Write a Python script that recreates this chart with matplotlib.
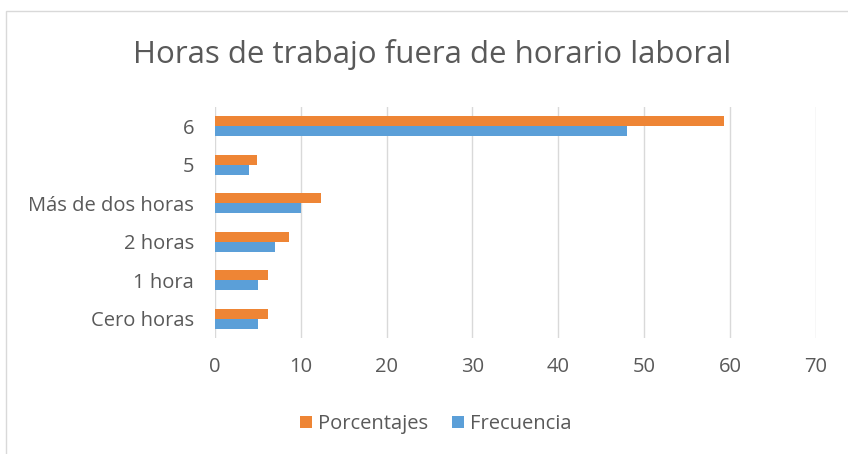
import numpy as np
import matplotlib.pyplot as plt
from matplotlib.patches import Rectangle

categorias = ['Cero horas', '1 hora', '2 horas', 'Más de dos horas', '5', '6']
porcentajes = [6.2, 6.2, 8.6, 12.3, 4.9, 59.3]
frecuencia = [5, 5, 7, 10, 4, 48]

plt.rcParams['font.family'] = ['Open Sans', 'DejaVu Sans']
gris = '#595959'

fig = plt.figure(figsize=(8.48, 4.54), dpi=100)
ax = fig.add_axes([0.2535, 0.2555, 0.7085, 0.509])

y = np.arange(len(categorias))
h = 0.26
ax.barh(y + h / 2, porcentajes, height=h, color='#EE8535', label='Porcentajes', zorder=3)
ax.barh(y - h / 2, frecuencia, height=h, color='#5B9FD8', label='Frecuencia', zorder=3)

ax.set_xlim(0, 70)
ax.set_ylim(-0.5, 5.5)
ax.set_xticks(range(0, 71, 10))
ax.set_yticks(y)
ax.set_yticklabels(categorias)
ax.tick_params(length=0, labelsize=14.5, colors=gris, pad=15)
ax.tick_params(axis='x', pad=14)
ax.grid(axis='x', color='#D9D9D9', linewidth=1, zorder=0)
for s in ax.spines.values():
    s.set_visible(False)

fig.text(0.51, 0.88, 'Horas de trabajo fuera de horario laboral',
         ha='center', va='center', fontsize=22.5, color=gris)

fig.legend(loc='center', bbox_to_anchor=(0.514, 0.066), ncol=2, frameon=False,
           fontsize=14.5, labelcolor=gris, handlelength=0.6, handleheight=0.6,
           handletextpad=0.3, columnspacing=1.2)

fig.patches.append(Rectangle((0.007, -0.01), 1.2, 0.985, transform=fig.transFigure,
                             fill=False, edgecolor='#D9D9D9', linewidth=1))

fig.savefig('out.png', dpi=100)
